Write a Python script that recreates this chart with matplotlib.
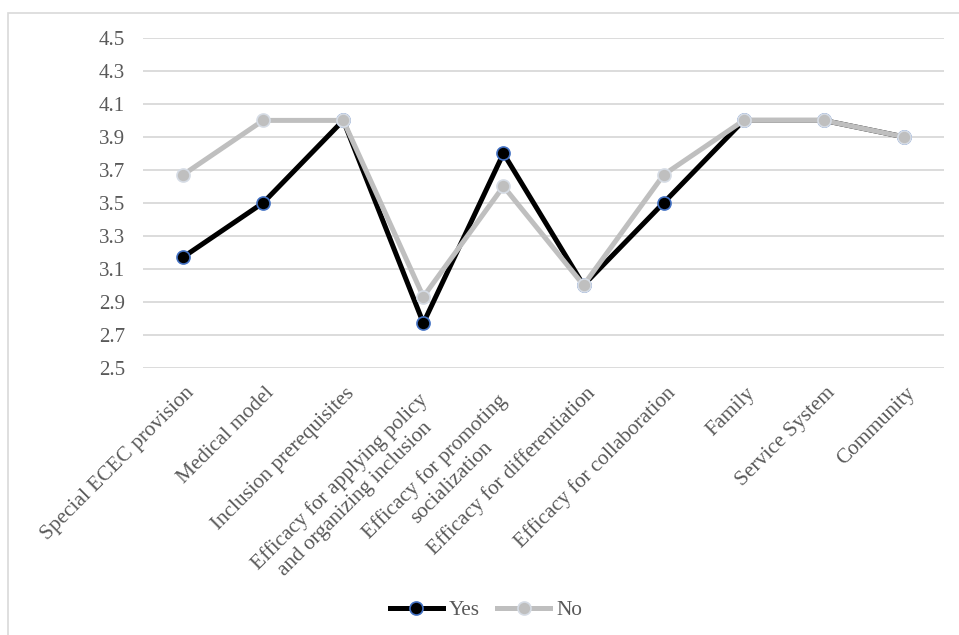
import matplotlib

matplotlib.use("Agg")
import matplotlib.pyplot as plt
import matplotlib.transforms as mtransforms
from matplotlib.patches import Rectangle

# datos
categories = [
    "Special ECEC provision",
    "Medical model",
    "Inclusion prerequisites",
    "Efficacy for applying policy\nand organizing inclusion",
    "Efficacy for promoting\nsocialization",
    "Efficacy for differentiation",
    "Efficacy for collaboration",
    "Family",
    "Service System",
    "Community",
]
yes_vals = [3.17, 3.50, 4.00, 2.77, 3.80, 3.00, 3.50, 4.00, 4.00, 3.90]
no_vals = [3.67, 4.00, 4.00, 2.93, 3.60, 3.00, 3.67, 4.00, 4.00, 3.90]
y_ticks = [2.5, 2.7, 2.9, 3.1, 3.3, 3.5, 3.7, 3.9, 4.1, 4.3, 4.5]

W, H = 959, 635
TXT = "#595959"
GRID = "#D9D9D9"

plt.rcParams["font.family"] = ["Liberation Serif", "DejaVu Serif"]

fig = plt.figure(figsize=(W / 100, H / 100), dpi=100)
ax = fig.add_axes([143 / W, 1 - 367.6 / H, (944 - 143) / W, (367.6 - 38) / H])

# borde exterior del area del grafico (solo visible arriba e izquierda)
fig.patches.append(Rectangle((8 / W, -0.1), 1.2, 1.1 - 13 / H, transform=fig.transFigure,
                             fill=False, edgecolor=GRID, linewidth=1.2))

x = list(range(len(categories)))
ax.plot(x, yes_vals, color="black", linewidth=3.6, marker="o", markersize=9.4,
        markerfacecolor="black", markeredgecolor="#4472C4", markeredgewidth=1.2,
        label="Yes", zorder=3, solid_joinstyle="round")
ax.plot(x, no_vals, color="#BFBFBF", linewidth=3.6, marker="o", markersize=9.4,
        markerfacecolor="#BFBFBF", markeredgecolor="#D6DCE5", markeredgewidth=1.2,
        label="No", zorder=4, solid_joinstyle="round")

ax.set_xlim(-0.5, len(categories) - 0.5)
ax.set_ylim(2.5, 4.5)
ax.set_yticks(y_ticks)
ax.set_yticklabels([f"{v:.1f}" for v in y_ticks])
ax.yaxis.grid(True, color=GRID, linewidth=1.3)
ax.set_axisbelow(True)
ax.tick_params(axis="y", length=0, pad=13, labelsize=15, labelcolor=TXT)
ax.set_xticks([])
for s in ax.spines.values():
    s.set_visible(False)

# etiquetas del eje x a 45 grados (ancladas por el final del texto)
base = mtransforms.blended_transform_factory(ax.transData, ax.transAxes)
for i, lab in enumerate(categories):
    if "\n" in lab:
        dx, dy = -6, -23
    else:
        dx, dy = 2, -16
    off = mtransforms.ScaledTranslation(dx / 100, dy / 100, fig.dpi_scale_trans)
    ax.text(i, 0, lab, transform=base + off, rotation=45, rotation_mode="anchor",
            ha="right", va="top", multialignment="center",
            fontsize=15.3, color=TXT, linespacing=1.25)

fig.legend(loc="center", bbox_to_anchor=(486 / W, 1 - 610 / H), ncol=2, frameon=False,
           fontsize=15.3, labelcolor=TXT, handlelength=2.5, handletextpad=0.3,
           columnspacing=0.8)

fig.savefig("out.png", dpi=100)
